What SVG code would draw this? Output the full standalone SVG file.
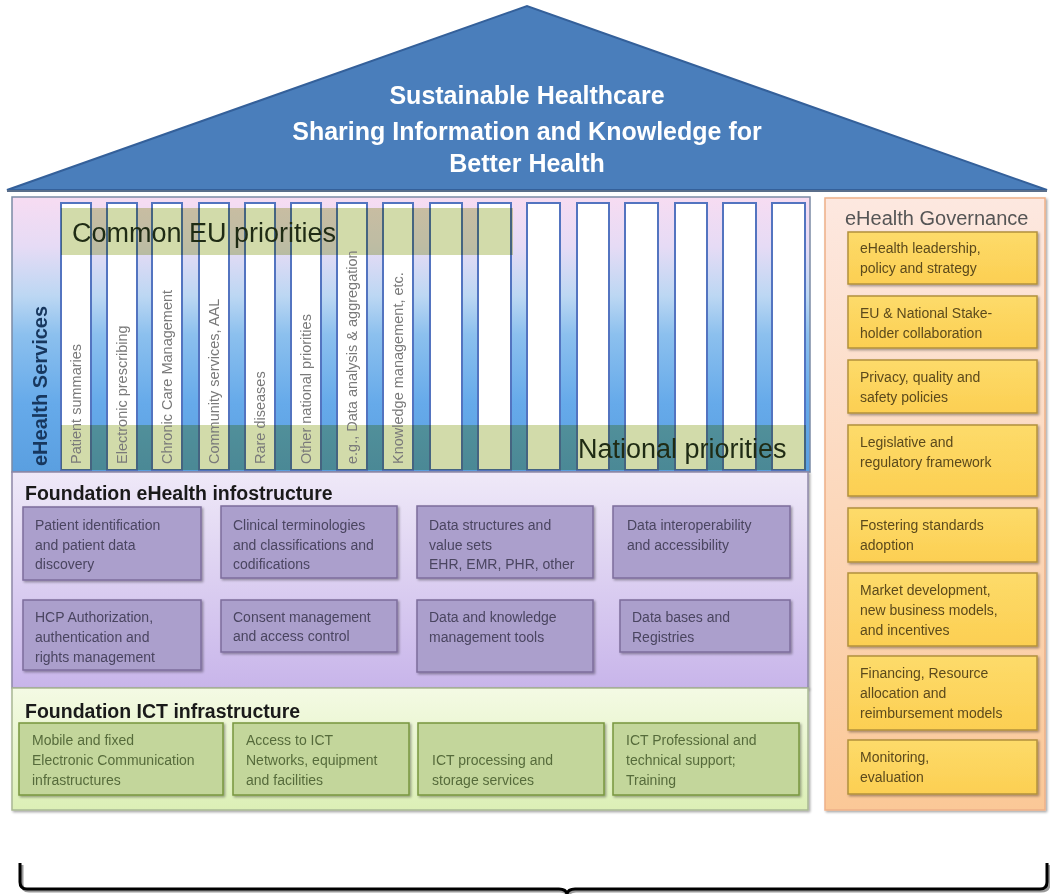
<svg xmlns="http://www.w3.org/2000/svg" width="1050" height="894" viewBox="0 0 1050 894">
<defs>
  <linearGradient id="gServ" x1="0" y1="197" x2="0" y2="472" gradientUnits="userSpaceOnUse">
    <stop offset="0" stop-color="#f7dcf2"/>
    <stop offset="0.18" stop-color="#e6dbf5"/>
    <stop offset="0.36" stop-color="#bcd7f3"/>
    <stop offset="0.5" stop-color="#8cc0ee"/>
    <stop offset="0.75" stop-color="#66aaea"/>
    <stop offset="1" stop-color="#5a9fe0"/>
  </linearGradient>
  <linearGradient id="gGov" x1="0" y1="0" x2="0" y2="1">
    <stop offset="0" stop-color="#fde8e0"/>
    <stop offset="1" stop-color="#fbc897"/>
  </linearGradient>
  <linearGradient id="gInfo" x1="0" y1="0" x2="0" y2="1">
    <stop offset="0" stop-color="#efe9f8"/>
    <stop offset="1" stop-color="#c8b5ea"/>
  </linearGradient>
  <linearGradient id="gIct" x1="0" y1="0" x2="0" y2="1">
    <stop offset="0" stop-color="#f4fae4"/>
    <stop offset="1" stop-color="#dcefb6"/>
  </linearGradient>
  <linearGradient id="gGold" x1="0" y1="0" x2="0" y2="1">
    <stop offset="0" stop-color="#fddb6a"/>
    <stop offset="1" stop-color="#fccf52"/>
  </linearGradient>
  <filter id="sh" x="-5%" y="-5%" width="115%" height="120%">
    <feDropShadow dx="1.5" dy="1.5" stdDeviation="1" flood-color="#000" flood-opacity="0.35"/>
  </filter>
</defs>
<style>
  text { font-family: "Liberation Sans", Arial, sans-serif; }
  .body { font-size: 14px; }
  .col { fill: #ffffff; stroke: #5374c0; stroke-width: 2; }
  .band { fill: #d2dbaa; mix-blend-mode: multiply; }
  .bandtxt { font-size: 27px; fill: #1f2b14; }
  .vlab { font-size: 14.5px; fill: #7a7a7a; }
  .title { font-size: 19.5px; font-weight: bold; fill: #1a1a1a; }
  .panel { filter: url(#sh); }
  .gov rect.box { fill: url(#gGold); stroke: #b3913c; stroke-width: 1.5; filter: url(#sh); }
  .gov text { fill: #5c4a1c; }
  .info rect.box { fill: #ab9fcc; stroke: #7d6d9c; stroke-width: 1.5; filter: url(#sh); }
  .info text { fill: #4a4560; }
  .ict rect.box { fill: #c3d69b; stroke: #78963f; stroke-width: 1.5; filter: url(#sh); }
  .ict text { fill: #566b3b; }
  .roof text { font-size: 25px; font-weight: bold; fill: #ffffff; }
</style>

<!-- Roof -->
<g id="roof" class="roof">
  <polygon points="7,190 527,6 1047,190" fill="#4a7ebb" stroke="#34609a" stroke-width="2"/>
  <line x1="7" y1="191" x2="1047" y2="191" stroke="#5a6e8a" stroke-width="2"/>
  <text x="527" y="104" text-anchor="middle">Sustainable Healthcare</text>
  <text x="527" y="140" text-anchor="middle">Sharing Information and Knowledge for</text>
  <text x="527" y="172" text-anchor="middle">Better Health</text>
</g>

<!-- eHealth Services -->
<g id="ehealth-services">
  <rect x="12" y="197" width="798" height="275" fill="url(#gServ)" stroke="#7b8ba5" stroke-width="1.5"/>
  <g id="pillars">
    <rect class="col" x="61" y="203" width="30" height="267"/>
    <rect class="col" x="107" y="203" width="30" height="267"/>
    <rect class="col" x="152" y="203" width="30" height="267"/>
    <rect class="col" x="199" y="203" width="30" height="267"/>
    <rect class="col" x="245" y="203" width="30" height="267"/>
    <rect class="col" x="291" y="203" width="30" height="267"/>
    <rect class="col" x="337" y="203" width="30" height="267"/>
    <rect class="col" x="383" y="203" width="30" height="267"/>
    <rect class="col" x="430" y="203" width="32" height="267"/>
    <rect class="col" x="478" y="203" width="33" height="267"/>
    <rect class="col" x="527" y="203" width="33" height="267"/>
    <rect class="col" x="577" y="203" width="32" height="267"/>
    <rect class="col" x="625" y="203" width="33" height="267"/>
    <rect class="col" x="675" y="203" width="32" height="267"/>
    <rect class="col" x="723" y="203" width="33" height="267"/>
    <rect class="col" x="772" y="203" width="33" height="267"/>
  </g>
  <g id="common-eu-priorities">
    <rect class="band" x="61" y="208" width="452" height="47"/>
    <text class="bandtxt" x="72" y="242">Common EU priorities</text>
  </g>
  <g id="national-priorities">
    <rect class="band" x="61" y="425" width="745" height="45"/>
    <text class="bandtxt" x="578" y="458">National priorities</text>
  </g>
  <g id="service-labels">
    <text class="vlab" transform="translate(81,464) rotate(-90)">Patient summaries</text>
    <text class="vlab" transform="translate(127,464) rotate(-90)">Electronic prescribing</text>
    <text class="vlab" transform="translate(172,464) rotate(-90)">Chronic Care Management</text>
    <text class="vlab" transform="translate(219,464) rotate(-90)">Community services, AAL</text>
    <text class="vlab" transform="translate(265,464) rotate(-90)">Rare diseases</text>
    <text class="vlab" transform="translate(311,464) rotate(-90)">Other national priorities</text>
    <text class="vlab" transform="translate(357,464) rotate(-90)">e.g., Data analysis &amp; aggregation</text>
    <text class="vlab" transform="translate(403,464) rotate(-90)">Knowledge management, etc.</text>
  </g>
  <text transform="translate(47,466) rotate(-90)" font-size="20" font-weight="bold" fill="#17375e">eHealth Services</text>
</g>

<!-- Foundation eHealth infostructure -->
<g id="infostructure" class="info">
  <rect class="panel" x="12" y="472" width="796" height="216" fill="url(#gInfo)" stroke="#8e88a8" stroke-width="1.5"/>
  <text class="title" x="25" y="500" style="fill:#1a1a1a">Foundation eHealth infostructure</text>
  <g id="info-patient-id">
    <rect class="box" x="23" y="507" width="178" height="73"/>
    <text class="body" x="35" y="530">Patient identification</text>
    <text class="body" x="35" y="550">and patient data</text>
    <text class="body" x="35" y="569">discovery</text>
  </g>
  <g id="info-terminologies">
    <rect class="box" x="221" y="506" width="176" height="72"/>
    <text class="body" x="233" y="530">Clinical terminologies</text>
    <text class="body" x="233" y="550">and classifications and</text>
    <text class="body" x="233" y="569">codifications</text>
  </g>
  <g id="info-data-structures">
    <rect class="box" x="417" y="506" width="176" height="72"/>
    <text class="body" x="429" y="530">Data structures and</text>
    <text class="body" x="429" y="550">value sets</text>
    <text class="body" x="429" y="569">EHR, EMR, PHR, other</text>
  </g>
  <g id="info-interoperability">
    <rect class="box" x="613" y="506" width="177" height="72"/>
    <text class="body" x="627" y="530">Data interoperability</text>
    <text class="body" x="627" y="550">and accessibility</text>
  </g>
  <g id="info-hcp">
    <rect class="box" x="23" y="600" width="178" height="70"/>
    <text class="body" x="35" y="622">HCP Authorization,</text>
    <text class="body" x="35" y="642">authentication and</text>
    <text class="body" x="35" y="662">rights management</text>
  </g>
  <g id="info-consent">
    <rect class="box" x="221" y="600" width="176" height="52"/>
    <text class="body" x="233" y="622">Consent management</text>
    <text class="body" x="233" y="641">and access control</text>
  </g>
  <g id="info-knowledge-tools">
    <rect class="box" x="417" y="600" width="176" height="72"/>
    <text class="body" x="429" y="622">Data and knowledge</text>
    <text class="body" x="429" y="642">management tools</text>
  </g>
  <g id="info-databases">
    <rect class="box" x="620" y="600" width="170" height="52"/>
    <text class="body" x="632" y="622">Data bases and</text>
    <text class="body" x="632" y="642">Registries</text>
  </g>
</g>

<!-- Foundation ICT infrastructure -->
<g id="ict-infrastructure" class="ict">
  <rect class="panel" x="12" y="688" width="796" height="122" fill="url(#gIct)" stroke="#a9b894" stroke-width="1.5"/>
  <text class="title" x="25" y="718" style="fill:#1a1a1a">Foundation ICT infrastructure</text>
  <g id="ict-mobile">
    <rect class="box" x="19" y="723" width="204" height="72"/>
    <text class="body" x="32" y="745">Mobile and fixed</text>
    <text class="body" x="32" y="765">Electronic Communication</text>
    <text class="body" x="32" y="785">infrastructures</text>
  </g>
  <g id="ict-access">
    <rect class="box" x="233" y="723" width="176" height="72"/>
    <text class="body" x="246" y="745">Access to ICT</text>
    <text class="body" x="246" y="765">Networks, equipment</text>
    <text class="body" x="246" y="785">and facilities</text>
  </g>
  <g id="ict-processing">
    <rect class="box" x="418" y="723" width="186" height="72"/>
    <text class="body" x="432" y="765">ICT processing and</text>
    <text class="body" x="432" y="785">storage services</text>
  </g>
  <g id="ict-support">
    <rect class="box" x="613" y="723" width="186" height="72"/>
    <text class="body" x="626" y="745">ICT Professional and</text>
    <text class="body" x="626" y="765">technical support;</text>
    <text class="body" x="626" y="785">Training</text>
  </g>
</g>

<!-- eHealth Governance -->
<g id="governance" class="gov">
  <rect class="panel" x="825" y="198" width="220" height="612" fill="url(#gGov)" stroke="#eeb088" stroke-width="1.5"/>
  <text x="845" y="225" font-size="20" style="fill:#555555">eHealth Governance</text>
  <g id="gov-leadership">
    <rect class="box" x="848" y="232" width="189" height="52"/>
    <text class="body" x="860" y="253">eHealth leadership,</text>
    <text class="body" x="860" y="273">policy and strategy</text>
  </g>
  <g id="gov-stakeholder">
    <rect class="box" x="848" y="296" width="189" height="52"/>
    <text class="body" x="860" y="318">EU &amp; National Stake-</text>
    <text class="body" x="860" y="338">holder collaboration</text>
  </g>
  <g id="gov-privacy">
    <rect class="box" x="848" y="360" width="189" height="53"/>
    <text class="body" x="860" y="382">Privacy, quality and</text>
    <text class="body" x="860" y="402">safety policies</text>
  </g>
  <g id="gov-legislative">
    <rect class="box" x="848" y="425" width="189" height="71"/>
    <text class="body" x="860" y="447">Legislative and</text>
    <text class="body" x="860" y="467">regulatory framework</text>
  </g>
  <g id="gov-standards">
    <rect class="box" x="848" y="508" width="189" height="54"/>
    <text class="body" x="860" y="530">Fostering standards</text>
    <text class="body" x="860" y="550">adoption</text>
  </g>
  <g id="gov-market">
    <rect class="box" x="848" y="573" width="189" height="73"/>
    <text class="body" x="860" y="595">Market development,</text>
    <text class="body" x="860" y="615">new business models,</text>
    <text class="body" x="860" y="635">and incentives</text>
  </g>
  <g id="gov-financing">
    <rect class="box" x="848" y="656" width="189" height="74"/>
    <text class="body" x="860" y="678">Financing, Resource</text>
    <text class="body" x="860" y="698">allocation and</text>
    <text class="body" x="860" y="718">reimbursement models</text>
  </g>
  <g id="gov-monitoring">
    <rect class="box" x="848" y="740" width="189" height="54"/>
    <text class="body" x="860" y="762">Monitoring,</text>
    <text class="body" x="860" y="782">evaluation</text>
  </g>
</g>

<!-- Bottom brace -->
<g id="connectors">
  <path d="M 21 864 L 21 883 Q 21 890 28 890 L 559 890 Q 566 890 567 895 Q 568 890 575 890 L 1040 890 Q 1048 890 1048 883 L 1048 864" fill="none" stroke="#9a9a9a" stroke-width="3" transform="translate(1,1)"/>
  <path d="M 20 863 L 20 882 Q 20 889 27 889 L 559 889 Q 566 889 567 894 Q 568 889 575 889 L 1040 889 Q 1047 889 1047 882 L 1047 863" fill="none" stroke="#000000" stroke-width="3"/>
</g>
</svg>
